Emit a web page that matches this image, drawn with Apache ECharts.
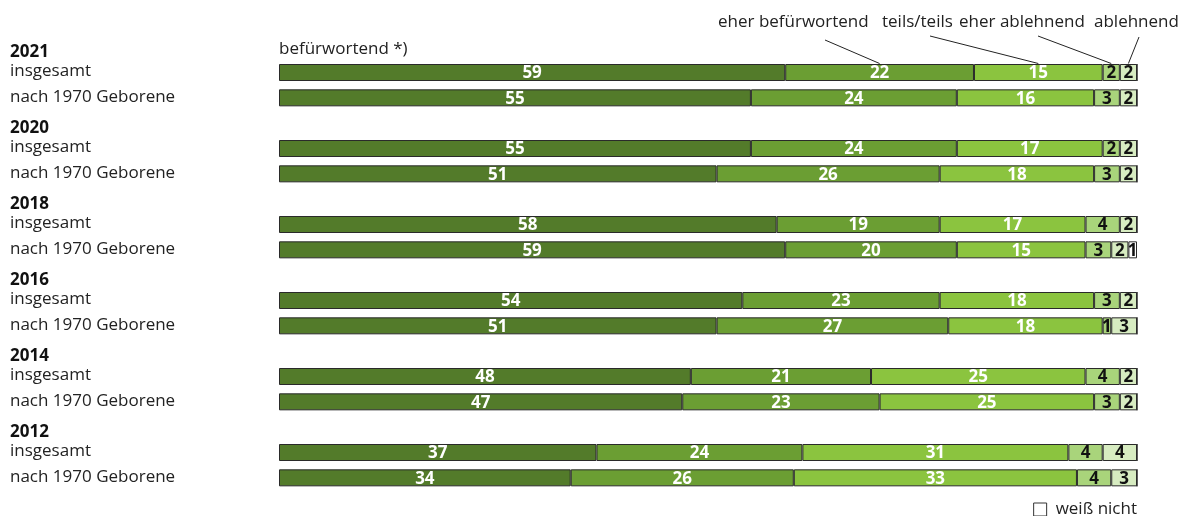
<!DOCTYPE html>
<html><head><meta charset="utf-8">
<script src="https://cdn.jsdelivr.net/npm/echarts@6/dist/echarts.min.js"></script>
<style>html,body{margin:0;padding:0;background:#fff}#c{width:1187px;height:516px}</style>
</head><body><div id="c"></div>
<script>
const years = ['2021','2020','2018','2016','2014','2012'];
const groups = ['insgesamt','nach 1970 Geborene'];
const seriesNames = ['befürwortend','eher befürwortend','teils/teils','eher ablehnend','ablehnend','weiß nicht'];
// rows: per year: insgesamt, nach 1970 Geborene
const befuerwortend    = [59,55, 55,51, 58,59, 54,51, 48,47, 37,34];
const eherBefuerwortend= [22,24, 24,26, 19,20, 23,27, 21,23, 24,26];
const teilsTeils       = [15,16, 17,18, 17,15, 18,18, 25,25, 31,33];
const eherAblehnend    = [ 2, 3,  2, 3,  4, 3,  3, 1,  4, 3,  4, 4];
const ablehnend        = [ 2, 2,  2, 2,  2, 2,  2, 3,  2, 2,  4, 3];
const weissNicht       = [ 0, 0,  0, 0,  0, 1,  0, 0,  0, 0,  0, 0];
const colors = ['#537b2a','#6b9e33','#8bc43f','#a9d47b','#d7ecc1','#ffffff'];
const labelColors = ['#fff','#fff','#fff','#111','#111','#111'];

const values = [befuerwortend, eherBefuerwortend, teilsTeils, eherAblehnend, ablehnend, weissNicht];
const categories = [];
const rowIndex = []; // maps data row -> category index
years.forEach((y,i)=>{
  categories.push('Y|'+y);
  groups.forEach((g,j)=>{ rowIndex.push(categories.length); categories.push('G|'+j+'|'+y); });
});
function seriesData(arr){
  const d = categories.map(()=>'-');
  arr.forEach((v,i)=>{ d[rowIndex[i]] = v; });
  return d;
}
const font = '"Open Sans", "Noto Sans", sans-serif';
const chart = echarts.init(document.getElementById('c'));
const series = seriesNames.map((n,k)=>({
  name:n, type:'bar', stack:'all', barWidth:17,
  data: seriesData(values[k]),
  itemStyle:{color:colors[k], borderColor:'#2a2a2a', borderWidth:1},
  label:{show:true, position:'inside', color:labelColors[k], fontFamily:font,
    fontSize:17, fontWeight:'bold', offset:[0,1],
    formatter: p => (p.value>0 ? p.value : '')},
  emphasis:{disabled:true}, animation:false
}));
chart.setOption({
  animation:false,
  grid:{left:279, right:50, top:34.5, height:456, containLabel:false},
  xAxis:{type:'value', min:0, max:100, show:false},
  yAxis:{type:'category', data:categories, inverse:true,
    axisLine:{show:false}, axisTick:{show:false}, splitLine:{show:false},
    axisLabel:{align:'left', margin:269, fontFamily:font, interval:0,
      formatter: v => {
        const p = v.split('|');
        if (p[0]==='Y') return '{y|'+p[1]+'}';
        return '{g|'+groups[+p[1]]+'}';
      },
      rich:{
        y:{fontFamily:font, fontSize:17, fontWeight:'bold', color:'#111', padding:[9,0,0,0]},
        g:{fontFamily:font, fontSize:17, color:'#222', padding:[0,0,2,0]}
      }}},
  legend:{data:['weiß nicht'], right:45, top:496, icon:'rect', itemWidth:13, itemHeight:13,
    itemStyle:{color:'#fff', borderColor:'#333', borderWidth:1},
    textStyle:{fontFamily:font, fontSize:17, color:'#222', padding:[0,0,0,4]},
    selectedMode:false},
  series: series
});

// annotations for the first bar
const firstRow = rowIndex[0];
function segMid(k){
  let s=0; for(let i=0;i<k;i++) s+=values[i][0];
  return s + values[k][0]/2;
}
const yTop = chart.convertToPixel({gridIndex:0},[0, firstRow])[1] - 9;
const ann = [
  {k:1, text:'eher befürwortend', tx:718, ty:14, lx:825, ly:40},
  {k:2, text:'teils/teils', tx:882, ty:14, lx:930, ly:36},
  {k:3, text:'eher ablehnend', tx:959, ty:14, lx:1038, ly:36},
  {k:4, text:'ablehnend', tx:1094, ty:14, lx:1139, ly:37}
];
const graphics = [];
graphics.push({type:'text', left:279, top:41, style:{text:'befürwortend *)', font:'17px '+font, fill:'#222'}});
ann.forEach(a=>{
  const px = chart.convertToPixel({gridIndex:0},[segMid(a.k), firstRow])[0];
  graphics.push({type:'text', left:a.tx, top:a.ty, style:{text:a.text, font:'17px '+font, fill:'#222'}});
  graphics.push({type:'line', shape:{x1:a.lx, y1:a.ly, x2:px, y2:yTop}, style:{stroke:'#222', lineWidth:1}});
});
chart.setOption({graphic:graphics});
</script></body></html>
